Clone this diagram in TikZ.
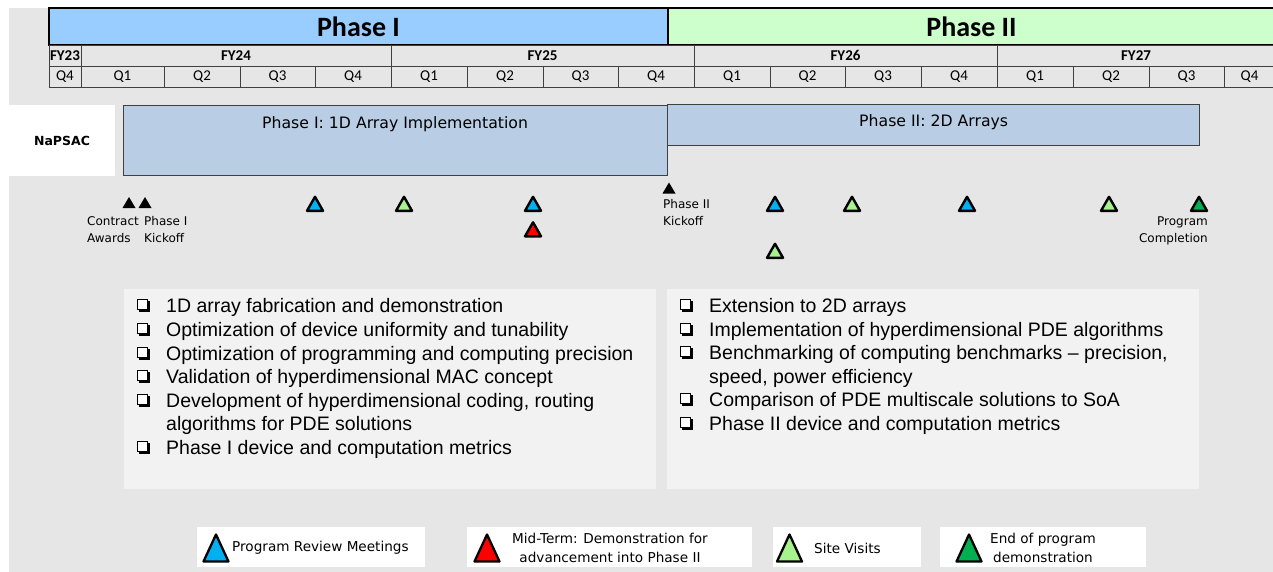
\documentclass[tikz,border=0pt]{standalone}
\usepackage{fontspec}
\setmainfont{Liberation Sans}
\newfontfamily\calfont{Carlito}
\newfontfamily\vfont{DejaVu Sans}
\newcommand\fsz[2]{\fontsize{#1}{#2}\selectfont}

\definecolor{bgc}{HTML}{E6E6E6}
\definecolor{panelc}{HTML}{F2F2F2}
\definecolor{phaseone}{HTML}{99CCFF}
\definecolor{phasetwo}{HTML}{CCFFCC}
\definecolor{barc}{HTML}{B9CDE5}
\definecolor{gridc}{HTML}{404040}
\definecolor{msblue}{HTML}{00B0F0}
\definecolor{mslgreen}{HTML}{A6F28C}
\definecolor{msdgreen}{HTML}{00B050}
\definecolor{msred}{HTML}{FF0000}

\tikzset{
  phasecell/.style={draw=black, line width=1.2pt, inner sep=0pt, minimum height=37pt,
    font=\calfont\bfseries\fsz{28}{30}},
  fycell/.style={draw=gridc, line width=0.9pt, inner sep=0pt, minimum height=21pt,
    font=\calfont\bfseries\fsz{15}{16}},
  qcell/.style={draw=gridc, line width=0.9pt, inner sep=0pt, minimum height=21pt,
    font=\calfont\fsz{15}{16}},
  bar/.style={draw=gridc, line width=1pt, fill=barc},
  bartext/.style={inner sep=0pt, font=\vfont\fsz{15.7}{18}},
  mslabel/.style={inner sep=0pt, font=\vfont\fsz{12}{16.5}},
  panel/.style={fill=panelc},
  item/.style={anchor=base west, inner sep=0pt, font=\fsz{19.5}{23.7}},
  legbox/.style={fill=white},
  legtext/.style={inner sep=0pt, font=\vfont\fsz{13.6}{18.5}},
  mtri/.style={draw=black, line width=2.4pt, line join=round},
  ltri/.style={draw=black, line width=2.3pt, line join=round},
}

% milestone marker: name, centre, fill colour
\newcommand\milestone[3]{%
  \coordinate (#1) at (#2);
  \filldraw[mtri, fill=#3, shift={(#1)}] (-8,6.8) -- (0,-7.2) -- (8,6.8) -- cycle;}
% small solid marker for contract events
\newcommand\eventmark[2]{%
  \coordinate (#1) at (#2);
  \fill[black, shift={(#1)}] (-6.5,5.5) -- (0,-5.5) -- (6.5,5.5) -- cycle;}
% large legend marker
\newcommand\legmark[3]{%
  \coordinate (#1) at (#2);
  \filldraw[ltri, fill=#3, shift={(#1)}] (-12.5,13.5) -- (0,-13.5) -- (12.5,13.5) -- cycle;}
% shadowed check box
\newcommand\checkbox[2]{%
  \coordinate (#1) at (#2);
  \draw[line width=1.6pt, shift={(#1)}] (-4.2,6.2) -- (6.2,6.2) -- (6.2,-4.2);
  \draw[line width=0.9pt, fill=white, shift={(#1)}] (-5.5,-5.5) rectangle (4.5,4.5);}

\begin{document}
\begin{tikzpicture}[x=1pt,y=-1pt]
\useasboundingbox (0,0) rectangle (1273,572);
\fill[bgc] (9,8) rectangle (1280,580);

% phase header
\node[phasecell, fill=phaseone, minimum width=619pt] (ph1) at (358.5,26.5) {Phase I};
\node[phasecell, fill=phasetwo, minimum width=607pt] (ph2) at (971.5,26.5) {Phase II};

% fiscal years
\foreach \a/\b/\t [count=\i] in {49/81/FY23, 81/391/FY24, 391/694/FY25, 694/997/FY26, 997/1275/FY27}
  \node[fycell, minimum width={(\b-\a)*1pt}] (fy\i) at ({(\a+\b)/2},55.5) {\t};

% quarters
\foreach \a/\b/\t [count=\i] in {49/81/Q4, 81/164/Q1, 164/240/Q2, 240/315/Q3, 315/391/Q4,
    391/467/Q1, 467/543/Q2, 543/618/Q3, 618/694/Q4, 694/770/Q1, 770/845/Q2, 845/921/Q3,
    921/997/Q4, 997/1073/Q1, 1073/1149/Q2, 1149/1224/Q3, 1224/1275/Q4}
  \node[qcell, minimum width={(\b-\a)*1pt}] (q\i) at ({(\a+\b)/2},76.5) {\t};

% program row
\fill[white] (9,105) rectangle (115,176);
\node[inner sep=0pt, font=\vfont\bfseries\fsz{12.5}{14}] (napsac) at (62,141) {NaPSAC};
\draw[bar] (123,106) rectangle (667,176);
\draw[bar] (667,105) rectangle (1199,146);
\node[bartext, anchor=west] (bar1) at (262,124) {Phase I: 1D Array Implementation};
\node[bartext, anchor=west] (bar2) at (859,122) {Phase II: 2D Arrays};

% milestones
\eventmark{award}{129,202.5}
\eventmark{kick1}{145,202.5}
\eventmark{kick2}{669,188}
\milestone{rev1}{315,204}{msblue}
\milestone{rev2}{533,204}{msblue}
\milestone{rev3}{775,204}{msblue}
\milestone{rev4}{967,204}{msblue}
\milestone{visit1}{404,204}{mslgreen}
\milestone{visit2}{775,251}{mslgreen}
\milestone{visit3}{852,204}{mslgreen}
\milestone{visit4}{1109,204}{mslgreen}
\milestone{midterm}{533,229.5}{msred}
\milestone{final}{1199,204}{msdgreen}

\node[mslabel, align=left, anchor=west] (lawards) at (87,229.5) {Contract\\Awards};
\node[mslabel, align=left, anchor=west] (lkick1) at (144,229.5) {Phase I\\Kickoff};
\node[mslabel, align=left, anchor=west] (lkick2) at (663,212.5) {Phase II\\Kickoff};
\node[mslabel, align=right, anchor=east] (lfinal) at (1208,231) {Program\\Completion};

% task panels
\fill[panel] (124,289) rectangle (656,489);
\fill[panel] (667,289) rectangle (1199,489);

\foreach \y/\t [count=\i] in {305/{1D array fabrication and demonstration},
    329/{Optimization of device uniformity and tunability},
    353/{Optimization of programming and computing precision},
    376/{Validation of hyperdimensional MAC concept},
    400/{Development of hyperdimensional coding, routing},
    423/{algorithms for PDE solutions},
    447/{Phase I device and computation metrics}}
  \node[item] (ta\i) at (166,\y+7) {\t};
\foreach \y [count=\i] in {305,329,353,376,400,447}
  \checkbox{ca\i}{143,\y};

\foreach \y/\t [count=\i] in {305/{Extension to 2D arrays},
    329/{Implementation of hyperdimensional PDE algorithms},
    352/{Benchmarking of computing benchmarks – precision,},
    376/{speed, power efficiency},
    399/{Comparison of PDE multiscale solutions to SoA},
    423/{Phase II device and computation metrics}}
  \node[item] (tb\i) at (709,\y+7) {\t};
\foreach \y [count=\i] in {305,329,352,399,423}
  \checkbox{cb\i}{686,\y};

% legend
\fill[legbox] (197,527) rectangle (425,567);
\fill[legbox] (467,527) rectangle (752,567);
\fill[legbox] (773,527) rectangle (921,567);
\fill[legbox] (940,527) rectangle (1146,567);
\legmark{kreview}{216,548}{msblue}
\legmark{kmid}{487,548}{msred}
\legmark{kvisit}{789.5,548}{mslgreen}
\legmark{kend}{969,548}{msdgreen}
\node[legtext, anchor=west] (treview) at (232,548) {Program Review Meetings};
\node[legtext, align=center] (tmid) at (610,548) {Mid-Term: Demonstration for\\advancement into Phase II};
\node[legtext, anchor=west] (tvisit) at (814,548) {Site Visits};
\node[legtext, align=center] (tend) at (1043,548) {End of program\\demonstration};
\end{tikzpicture}
\end{document}
